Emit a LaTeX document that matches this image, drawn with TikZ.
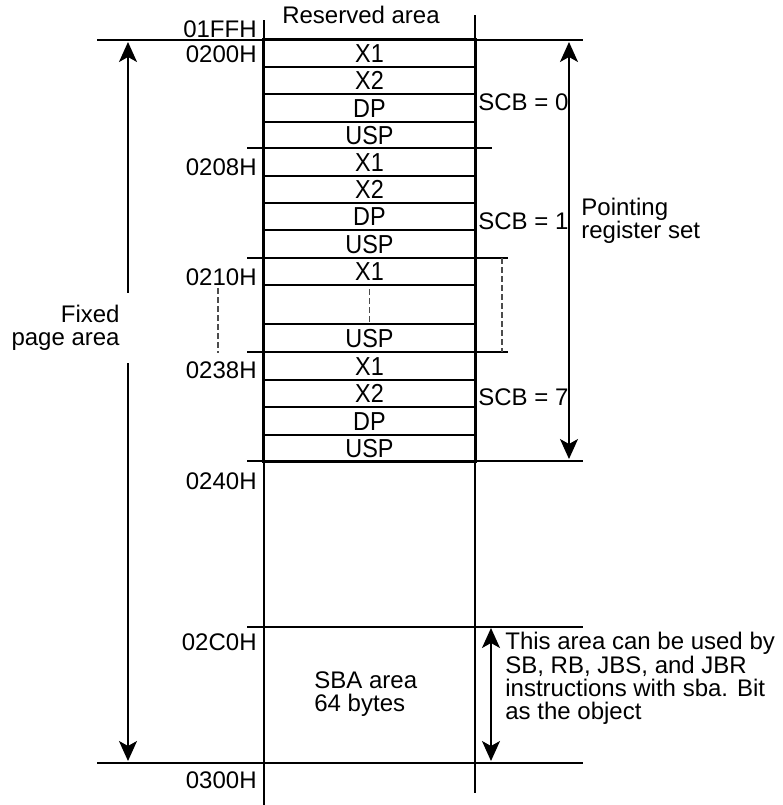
\documentclass[tikz,border=0pt]{standalone}
\usepackage{fontspec}
\setmainfont{Liberation Sans}
\newfontfamily\regfont{Liberation Sans}[FakeStretch=0.9]
\usetikzlibrary{arrows.meta, positioning}

\begin{document}
\begin{tikzpicture}[
    x=0.5pt, y=-0.5pt,
    every node/.style={font=\fontsize{12}{11.6}\selectfont, inner sep=0pt},
    reg/.style={draw, line width=1pt, minimum width=105.5pt, text height=9.3pt, text depth=-2pt,
        font=\regfont\fontsize{13}{13}\selectfont},
    addr/.style={anchor=base east},
    memline/.style={line width=0.85pt},
    gapline/.style={line width=0.6pt, dash pattern=on 3pt off 1.5pt, black!70},
    tip/.style={-{Stealth[length=10pt, width=9pt, inset=2.5pt]}, line width=0.85pt},
    span/.style={{Stealth[length=10pt, width=9pt, inset=2.5pt]}-{Stealth[length=10pt, width=9pt, inset=2.5pt]}, line width=0.85pt}
]
    \useasboundingbox (0,0) rectangle (783,805);

    % memory boundary lines
    \draw[memline] (264,20) -- (264,805);
    \draw[memline] (475,15) -- (475,793);
    \foreach \y/\xa/\xb in {40/97/583, 148/247/492, 258/247/508, 352/247/508, 461/247/583, 627/247/583, 763/97/583}
        \draw[memline] (\xa,\y) -- (\xb,\y);

    % register rows
    \foreach \ya/\yb/\txt [count=\i] in {40/67/X1, 67/94/X2, 94/122/DP, 122/148/USP, 148/176/X1, 176/203/X2, 203/230/DP, 230/258/USP, 258/285/X1, 285/324/{}, 324/352/USP, 352/380/X1, 380/407/X2, 407/435/DP, 435/461/USP}
        \node[reg, minimum height={(\yb-\ya)*0.5pt}] (r\i) at (369.5,{(\ya+\yb)/2}) {\txt};
    \draw[line width=1.4pt] (r1.north west) rectangle (r15.south east);

    % addresses
    \foreach \y/\lbl in {37/01FFH, 62/0200H, 175/0208H, 285/0210H, 378/0238H, 489/0240H, 650/02C0H, 788/0300H}
        \node[addr] (a\lbl) at (257,\y) {\lbl};
    \node[anchor=base] (reserved) at (361,23) {Reserved area};

    % omitted sets
    \draw[gapline] (218,288) -- (218,353);
    \draw[gapline] ([yshift=-2.5pt]r10.north) -- (r10.south);
    \draw[gapline] (502,258) -- (502,352);

    \foreach \y/\n in {110/0, 229/1, 405/7}
        \node[anchor=base west] (scb\n) at (478,\y) {SCB = \n};

    % fixed page area
    \coordinate (fixtop) at (128,42);
    \coordinate (fixbot) at (128,761);
    \node[anchor=east, align=right, inner ysep=6pt] (fixed) at (120,328) {Fixed\\page area};
    \draw[tip] (fixed.north -| fixtop) -- (fixtop);
    \draw[tip] (fixed.south -| fixbot) -- (fixbot);

    % pointing register set
    \coordinate (ptrtop) at (569,42);
    \coordinate (ptrbot) at (569,459);
    \draw[span] (ptrtop) -- (ptrbot);
    \node[anchor=west, align=left] (pointing) at (581,221) {Pointing\\register set};

    % SBA area
    \coordinate (sbatop) at (491,628);
    \coordinate (sbabot) at (491,761);
    \draw[span] (sbatop) -- (sbabot);
    \node[anchor=north west, align=left] (sbaarea) at (314,671.5) {SBA area\\64 bytes};
    \node[anchor=north west, align=left] (sbanote) at (505,632) {This area can be used by\\SB, RB, JBS, and JBR\\instructions with sba. Bit\\as the object};
\end{tikzpicture}
\end{document}
